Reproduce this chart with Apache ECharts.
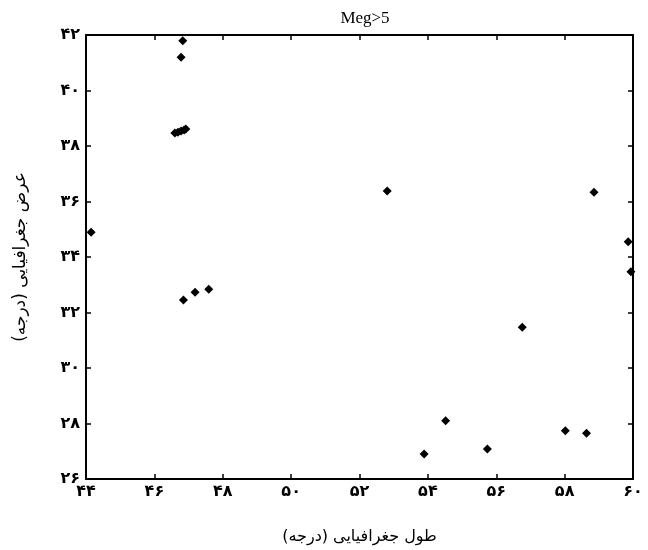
<!DOCTYPE html>
<html>
<head>
<meta charset="utf-8">
<script src="https://cdn.jsdelivr.net/npm/echarts@6/dist/echarts.min.js"></script>
<style>html,body{margin:0;padding:0;background:#fff}#c{width:648px;height:550px}</style>
</head>
<body>
<div id="c"></div>
<script>
var titleText = "Meg>5";
var xName = "طول جغرافیایی (درجه)";
var yName = "عرض جغرافیایی (درجه)";
var xTickValues = [44, 46, 48, 50, 52, 54, 56, 58, 60];
var xTickLabels = ["۴۴", "۴۶", "۴۸", "۵۰", "۵۲", "۵۴", "۵۶", "۵۸", "۶۰"];
var yTickValues = [26, 28, 30, 32, 34, 36, 38, 40, 42];
var yTickLabels = ["۲۶", "۲۸", "۳۰", "۳۲", "۳۴", "۳۶", "۳۸", "۴۰", "۴۲"];
var longitudes = [46.83, 46.78, 46.60, 46.69, 46.78, 46.87, 46.92, 44.15, 46.85, 47.19, 47.59, 52.81, 58.86, 59.86, 59.94, 56.76, 54.52, 53.89, 55.74, 58.02, 58.64];
var latitudes  = [41.79, 41.20, 38.47, 38.50, 38.54, 38.58, 38.61, 34.89, 32.45, 32.73, 32.84, 36.38, 36.33, 34.55, 33.47, 31.47, 28.10, 26.90, 27.08, 27.74, 27.65];

var points = longitudes.map(function (x, i) { return [x, latitudes[i]]; });
function lab(values, labels) {
  return function (v) { var i = values.indexOf(Math.round(v)); return i >= 0 ? labels[i] : ""; };
}
var axisLineStyle = { show: true, lineStyle: { color: "#000", width: 2 } };
var tickStyle = { show: true, inside: true, length: 5, lineStyle: { color: "#000", width: 1.5 } };
var chart = echarts.init(document.getElementById("c"));
chart.setOption({
  animation: false,
  backgroundColor: "#fff",
  title: { text: titleText, left: 360, top: 5, textAlign: "center",
    textStyle: { fontFamily: "Liberation Serif", fontSize: 17, fontWeight: "normal", color: "#000" } },
  grid: { left: 86, right: 15, top: 35, bottom: 71 },
  xAxis: [{
    type: "value", min: 44, max: 60, interval: 2, position: "bottom",
    name: xName, nameLocation: "middle", nameGap: 50,
    nameTextStyle: { fontFamily: "DejaVu Sans", fontSize: 16, color: "#000" },
    axisLine: axisLineStyle, axisTick: tickStyle, splitLine: { show: false },
    axisLabel: { formatter: lab(xTickValues, xTickLabels), color: "#000", fontSize: 16, fontWeight: "bold", margin: 5, fontFamily: "DejaVu Sans" }
  }, {
    type: "value", min: 44, max: 60, interval: 2, position: "top",
    axisLine: axisLineStyle, axisTick: tickStyle, splitLine: { show: false }, axisLabel: { show: false }
  }],
  yAxis: [{
    type: "value", min: 26, max: 42, interval: 2, position: "left",
    name: yName, nameLocation: "middle", nameGap: 57, nameRotate: 90,
    nameTextStyle: { fontFamily: "DejaVu Sans", fontSize: 17, color: "#000" },
    axisLine: axisLineStyle, axisTick: tickStyle, splitLine: { show: false },
    axisLabel: { formatter: lab(yTickValues, yTickLabels), color: "#000", fontSize: 16, fontWeight: "bold", margin: 6, fontFamily: "DejaVu Sans" }
  }, {
    type: "value", min: 26, max: 42, interval: 2, position: "right",
    axisLine: axisLineStyle, axisTick: tickStyle, splitLine: { show: false }, axisLabel: { show: false }
  }],
  series: [{
    type: "scatter", xAxisIndex: 0, yAxisIndex: 0,
    symbol: "diamond", symbolSize: 9,
    itemStyle: { color: "#000", opacity: 1 },
    data: points
  }]
});
</script>
</body>
</html>
